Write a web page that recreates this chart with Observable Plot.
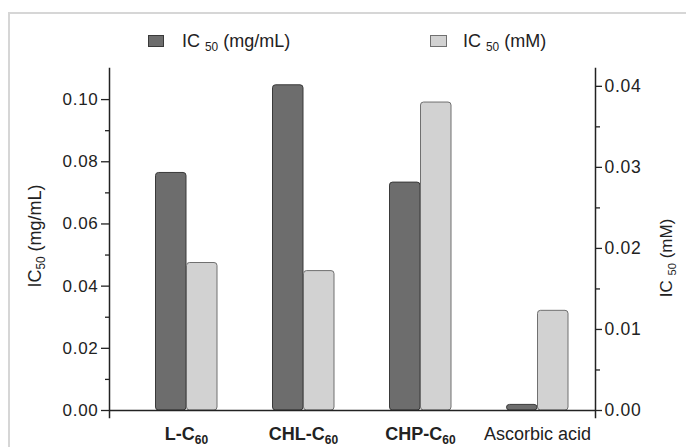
<!DOCTYPE html>
<html><head><meta charset="utf-8">
<script src="https://cdn.jsdelivr.net/npm/d3@7"></script>
<script src="https://cdn.jsdelivr.net/npm/@observablehq/plot@0.6"></script>
<style>
body{margin:0;background:#fff;font-family:"Liberation Sans",Arial,sans-serif;}
#wrap{position:relative;width:686px;height:447px;overflow:hidden;background:#fff;}
#border{position:absolute;left:8px;top:12px;width:720px;height:520px;border-top:2px solid #d6d6d6;border-left:2px solid #d6d6d6;}
#chart{position:absolute;left:0;top:0;}
</style></head><body>
<div id="wrap"><div id="border"></div><div id="chart"></div></div>
<script>
// ---- data ----
const categories = ["L-C60", "CHL-C60", "CHP-C60", "Ascorbic acid"];
const ic50MgPerMl = [0.0764, 0.1046, 0.0733, 0.0018];
const ic50mM = [0.0182, 0.0172, 0.0380, 0.0123];
const seriesNames = ["IC50 (mg/mL)", "IC50 (mM)"];
const leftTicks = [0, 0.02, 0.04, 0.06, 0.08, 0.10];
const leftMinorTicks = [0.01, 0.03, 0.05, 0.07, 0.09];
const rightTicks = [0, 0.01, 0.02, 0.03, 0.04];
const rightMinorTicks = [0.005, 0.015, 0.025, 0.035];

// ---- scales ----
const leftMax = 0.11, rightMax = 0.0422;
const k = leftMax / rightMax; // maps mM onto the left axis scale

const dark = categories.map((c, i) => ({category: c, series: seriesNames[0], value: ic50MgPerMl[i], y: ic50MgPerMl[i]}));
const light = categories.map((c, i) => ({category: c, series: seriesNames[1], value: ic50mM[i], y: ic50mM[i] * k}));

const ink = "#222";
const plot = Plot.plot({
  width: 686, height: 447,
  marginTop: 68, marginBottom: 37, marginLeft: 109, marginRight: 91,
  style: {fontFamily: "'Liberation Sans', Arial, sans-serif", color: ink, background: "transparent"},
  x: {domain: categories, range: [98, 625], padding: 0.4737, axis: null},
  y: {domain: [0, leftMax], axis: null},
  marks: [
    Plot.barY(dark, {x: "category", y: "y", insetRight: 31, insetLeft: 0.5, fill: "#6d6d6d", stroke: "#3a3a3a", strokeWidth: 1, rx: 3}),
    Plot.barY(light, {x: "category", y: "y", insetLeft: 31.5, fill: "#d2d2d2", stroke: "#707070", strokeWidth: 1, rx: 3}),
    Plot.ruleY([0], {stroke: ink, strokeWidth: 1.5}),
    Plot.frame({anchor: "left", stroke: ink, strokeWidth: 1.5, insetBottom: -7}),
    Plot.frame({anchor: "right", stroke: ink, strokeWidth: 1.5, insetBottom: -7}),
    Plot.axisY(leftTicks, {anchor: "left", tickSize: 8, tickPadding: 3, tickFormat: d => d.toFixed(2), fontSize: 17, label: null, strokeWidth: 1.3}),
    Plot.axisY(leftMinorTicks, {anchor: "left", tickSize: 4, text: null, label: null, strokeWidth: 1.3}),
    Plot.axisY(rightTicks.map(t => t * k), {anchor: "right", tickSize: 6, tickPadding: 3, tickFormat: d => (d / k).toFixed(2), fontSize: 17.5, label: null, strokeWidth: 1.3}),
    Plot.axisY(rightMinorTicks.map(t => t * k), {anchor: "right", tickSize: 4, text: null, label: null, strokeWidth: 1.3}),
    Plot.axisX({anchor: "bottom", tickSize: 0, tickPadding: 17, fontSize: 18, label: null})
  ]
});
document.getElementById("chart").appendChild(plot);

const svg = d3.select(plot);

// category labels with subscripts
svg.selectAll('g[aria-label="x-axis tick label"] text').each(function() {
  const t = d3.select(this);
  const s = t.text();
  const m = s.match(/^(.*C)(60)$/);
  t.text("");
  if (m) {
    t.attr("font-weight", "bold");
    t.append("tspan").text(m[1]);
    t.append("tspan").attr("font-size", 12).attr("dy", "0.35em").text(m[2]);
  } else {
    t.attr("font-weight", "normal");
    t.append("tspan").text(s);
  }
});

// letter spacing for numeric ticks
svg.selectAll('g[aria-label="y-axis tick label"] text').attr("letter-spacing", "0.7px");

function subLabel(g, pre, sub, post, size) {
  const t = g.append("text").attr("font-size", size).attr("fill", ink).attr("text-anchor", "middle");
  t.append("tspan").text(pre);
  t.append("tspan").attr("font-size", size * 0.66).attr("dy", "0.35em").text(sub);
  t.append("tspan").attr("dy", "-0.24em").text(post);
  return t;
}

// axis titles
subLabel(svg.append("g").attr("transform", "translate(41,236) rotate(-90)"), "IC", "50", " (mg/mL)", 18);
subLabel(svg.append("g").attr("transform", "translate(672,258) rotate(-90)"), "IC ", "50", " (mM)", 17);

// legend
const leg = svg.append("g");
leg.append("rect").attr("x", 148.5).attr("y", 35.5).attr("width", 15).attr("height", 11).attr("fill", "#6d6d6d").attr("stroke", "#3a3a3a");
leg.append("rect").attr("x", 430.5).attr("y", 35.5).attr("width", 16).attr("height", 11).attr("fill", "#d2d2d2").attr("stroke", "#707070");
subLabel(leg.append("g").attr("transform", "translate(182,47)"), "IC ", "50", " (mg/mL)", 18).attr("text-anchor", "start");
subLabel(leg.append("g").attr("transform", "translate(463,47)"), "IC ", "50", " (mM)", 18).attr("text-anchor", "start");
</script>
</body></html>
